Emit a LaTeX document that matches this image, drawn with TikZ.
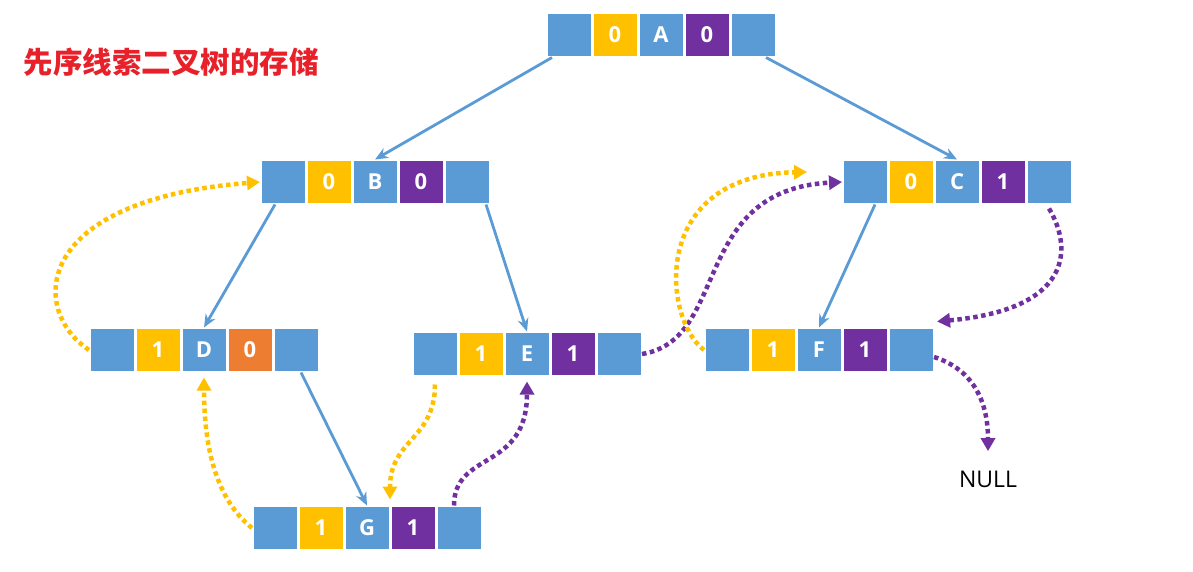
\documentclass[tikz,border=0pt]{standalone}
\usepackage{fontspec}
\setmainfont{Open Sans}
\newfontfamily\cjk{Noto Sans CJK SC}
\usepackage{tikz}
\usetikzlibrary{arrows.meta,positioning}

\definecolor{cblue}{HTML}{5B9BD5}
\definecolor{cyellow}{HTML}{FFC000}
\definecolor{cpurple}{HTML}{7030A0}
\definecolor{corange}{HTML}{ED7D31}
\definecolor{cred}{HTML}{E8202A}

\tikzset{
cell/.style={draw=white, line width=1.5pt, minimum width=44.5pt, minimum height=43.5pt,
  inner sep=0pt, text=white, font=\fontsize{22}{22}\selectfont\bfseries},
tree/.style={draw=cblue, line width=2.8pt, -{Stealth[length=13pt,width=11pt]}},
thread/.style={line width=4.5pt, dash pattern=on 4.5pt off 3.5pt, -{Triangle[length=13pt,width=14pt]}}
}

% one node of the threaded tree: left pointer, left tag, data, right tag, right pointer
\newcommand{\record}[6]{%
\node[cell, fill=cblue] (#1) at (#2) {#1};
\node[cell, fill=#4, left=0pt of #1] (#1lt) {#3};
\node[cell, fill=cblue, left=0pt of #1lt] (#1l) {};
\node[cell, fill=#6, right=0pt of #1] (#1rt) {#5};
\node[cell, fill=cblue, right=0pt of #1rt] (#1r) {};
}

\begin{document}
\begin{tikzpicture}[x=1pt,y=-1pt]
\useasboundingbox (0,0) rectangle (1193,572);

\node[anchor=center, text=cred, font=\cjk\bfseries\fontsize{29.5}{29.5}\selectfont] (title) at (171,62)
{先序线索二叉树的存储};

\record{A}{661,35}{0}{cyellow}{0}{cpurple}
\record{B}{375,182}{0}{cyellow}{0}{cpurple}
\record{C}{957,182}{0}{cyellow}{1}{cpurple}
\record{D}{204,350}{1}{cyellow}{0}{corange}
\record{E}{527,354}{1}{cyellow}{1}{cpurple}
\record{F}{819,350}{1}{cyellow}{1}{cpurple}
\record{G}{367,528}{1}{cyellow}{1}{cpurple}

\node[anchor=center, font=\fontsize{23}{23}\selectfont] (null) at (988,479) {NULL};

% child links
\draw[tree] ([xshift=6pt]Al.south west) -- (B.north);
\draw[tree] ([xshift=-10pt]Ar.south east) -- (C.north);
\draw[tree] ([xshift=-8pt]Bl.south) -- (D.north);
\draw[tree] ([xshift=-4pt]Br.south east) -- (E.north);
\draw[tree] ([xshift=10pt]Cl.south) -- (F.north);
\draw[tree] ([xshift=5pt]Dr.south) -- (G.north);

% threads
\draw[thread, cyellow] (Dl.west) .. controls +(-60,-40) and +(-228,18) .. (Bl.west);
\draw[thread, cyellow] (Gl.west) .. controls +(-35,-28) and +(0,72) .. ([yshift=-5pt]D.south);
\draw[thread, cyellow] ([yshift=-8pt]El.south) .. controls +(0,55) and +(0,-60) .. ([yshift=6pt]G.north east);
\draw[thread, cpurple] ([xshift=-5pt]Gr.north) .. controls +(0,-55) and +(0,90) .. ([yshift=-5pt]E.south);
\draw[thread, cpurple] (Er.east) .. controls +(88,-14) and +(-152,8) .. (Cl.west);
\draw[thread, cyellow] (Fl.west) .. controls +(-42,-32) and +(-157,3) .. ([xshift=-35pt,yshift=10pt]Cl.west);
\draw[thread, cpurple] ([yshift=-4pt]Cr.south) .. controls +(25,42) and +(133,-12) .. ([xshift=3pt,yshift=6pt]Fr.north east);
\draw[thread, cpurple] ([yshift=-7pt]Fr.east) .. controls +(41,13) and +(0,-47) .. ([yshift=16pt]null.north);
\end{tikzpicture}
\end{document}
